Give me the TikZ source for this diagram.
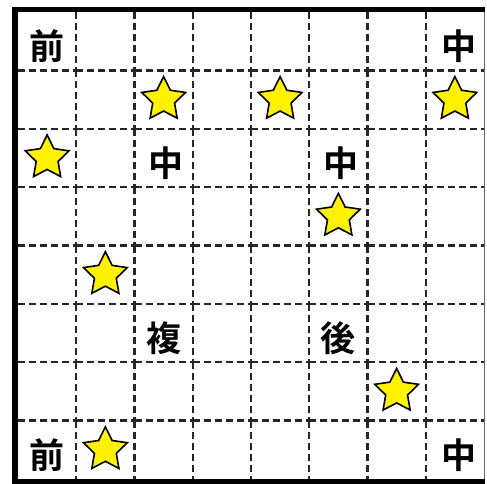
\documentclass[tikz,border=0pt]{standalone}
\usepackage{fontspec}
\newfontfamily\jpfont{Noto Sans CJK JP Bold}
\usetikzlibrary{shapes.geometric}

\begin{document}
\begin{tikzpicture}[
    x=1pt,y=-1pt,
    gridline/.style={draw=black!85,line width=2.3pt,dash pattern=on 7pt off 4pt},
    starmark/.style={star,star points=5,star point ratio=2.0,minimum size=46pt,inner sep=0pt,draw=black,line width=1.6pt,fill=yellow},
    piece/.style={font=\jpfont\fontsize{35}{35}\selectfont,inner sep=0pt,yshift=-5pt}
  ]
    \useasboundingbox (0,0) rectangle (487,484);
    % dashed cell edges, each starting at its top-left corner
    \foreach \i in {1,...,7}
      \foreach \j in {0,...,7}
        \draw[gridline] ({18+58.25*\i},{12+58.375*\j}) -- ++(0,58.375);
    \foreach \j in {1,...,7}
      \foreach \i in {0,...,7}
        \draw[gridline] ({18+58.25*\i},{12+58.375*\j}) -- ++(58.25,0);
    % frame
    \draw[black!60,line width=1.5pt] (484.5,8) -- (484.5,480);
    \draw[line width=5pt] (12,9.5) -- (485.2,9.5);
    \draw[line width=5pt] (12,481.5) -- (485.2,481.5);
    \draw[line width=6pt] (15,7) -- (15,484);
    % cell centres
    \foreach \i in {0,...,7}
      \foreach \j in {0,...,7}
        \coordinate (c\i\j) at ({18+58.25*(\i+0.5)},{12+58.375*(\j+0.5)});
    % stars
    \foreach \i/\j in {2/1,4/1,7/1,0/2,5/3,1/4,6/6,1/7}
      \node[starmark] (s\i\j) at (c\i\j) {};
    % pieces
    \node[piece] (p00) at (c00) {前};
    \node[piece,xshift=4pt] (p70) at (c70) {中};
    \node[piece,xshift=2pt] (p22) at (c22) {中};
    \node[piece,xshift=3pt] (p52) at (c52) {中};
    \node[piece] (p25) at (c25) {複};
    \node[piece] (p55) at (c55) {後};
    \node[piece] (p07) at (c07) {前};
    \node[piece,xshift=4pt] (p77) at (c77) {中};
  \end{tikzpicture}
\end{document}
